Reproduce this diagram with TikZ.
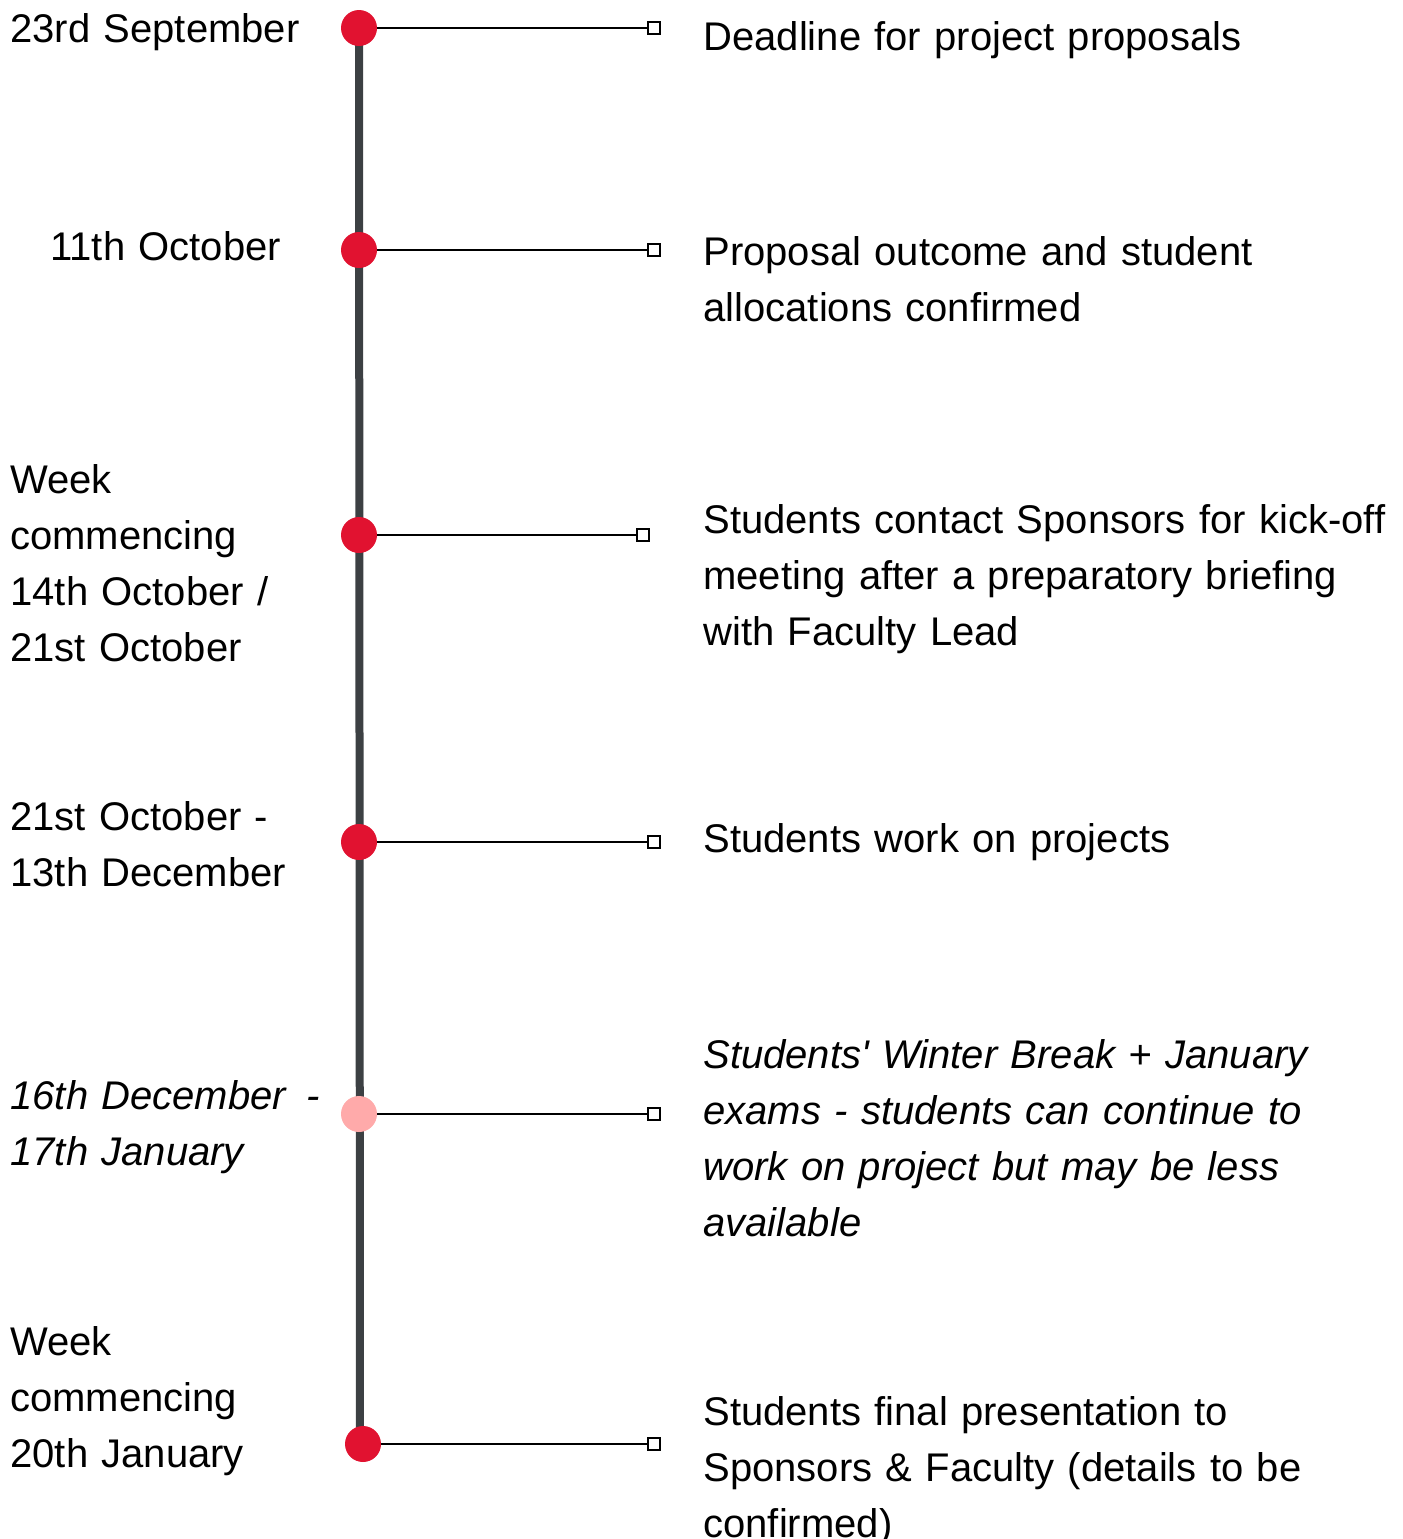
\documentclass[tikz,border=0pt]{standalone}
\usepackage{fontspec}
\setmainfont{Liberation Sans}
\usepackage{tikz}
\usetikzlibrary{backgrounds}
\definecolor{dotred}{HTML}{E11230}
\definecolor{dotpink}{HTML}{FFAAAA}
\definecolor{spinegray}{HTML}{3C4043}
\tikzset{
  eventdot/.style={circle,fill=dotred,inner sep=0pt,minimum size=18pt},
  breakdot/.style={eventdot,fill=dotpink},
  endbox/.style={draw=black,fill=white,line width=0.8pt,inner sep=0pt,minimum size=6pt},
  link/.style={line width=0.9pt,black},
  spine/.style={line width=4pt,spinegray},
  datetext/.style={anchor=north west,inner sep=0pt,align=left,text width=165pt,
    font=\fontsize{20}{28}\selectfont},
  eventtext/.style={datetext,text width=350pt},
}

\begin{document}
\begin{tikzpicture}[x=0.5pt,y=-0.5pt]
            \useasboundingbox (0,0) rectangle (1403,1539);
                % vertices
                \node[eventdot] (d1) at (359,28) {};
                \node[eventdot] (d2) at (359,250) {};
                \node[eventdot] (d3) at (359,535) {};
                \node[eventdot] (d4) at (359,842) {};
                \node[breakdot] (d5) at (359,1114) {};
                \node[eventdot] (d6) at (363,1444) {};
                \node[endbox] (e1) at (654,28) {};
                \node[endbox] (e2) at (654,250) {};
                \node[endbox] (e3) at (643,535) {};
                \node[endbox] (e4) at (654,842) {};
                \node[endbox] (e5) at (654,1114) {};
                \node[endbox] (e6) at (654,1444) {};
                % dates
                \node[datetext] (t1) at (10,3) {\strut 23rd September};
                \node[datetext] (t2) at (50,221) {\strut 11th October};
                \node[datetext] (t3) at (10,454) {\strut Week\\commencing\\14th October /\\21st October};
                \node[datetext] (t4) at (10,791) {\strut 21st October -\\13th December};
                \node[datetext,font=\fontsize{20}{28}\selectfont\itshape] (t5) at (10,1070) {\strut 16th December\ \,-\\17th January};
                \node[datetext] (t6) at (10,1316) {\strut Week\\commencing\\20th January};
                % events
                \node[eventtext] (s1) at (703,11) {\strut Deadline for project proposals};
                \node[eventtext] (s2) at (703,226) {\strut Proposal outcome and student\\allocations confirmed};
                \node[eventtext] (s3) at (703,494) {\strut Students contact Sponsors for kick-off\\meeting after a preparatory briefing\\with Faculty Lead};
                \node[eventtext] (s4) at (703,813) {\strut Students work on projects};
                \node[eventtext,font=\fontsize{20}{28}\selectfont\itshape] (s5) at (703,1029) {\strut Students\textquotesingle{} Winter Break + January\\exams - students can continue to\\work on project but may be less\\available};
                \node[eventtext] (s6) at (703,1386) {\strut Students final presentation to\\Sponsors \& Faculty (details to be\\confirmed)};
                % timeline
                \begin{scope}[on background layer]
                    \draw[spine] (d1.center) -- (360,1444);
                \end{scope}
                \foreach \i in {1,...,6}
                    \draw[link] (d\i) -- (e\i);
        \end{tikzpicture}
\end{document}
